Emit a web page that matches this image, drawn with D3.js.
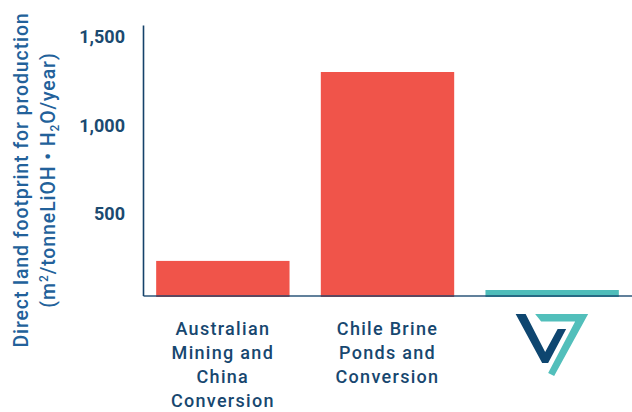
<!DOCTYPE html>
<html>
<head>
<meta charset="utf-8">
<script src="https://cdn.jsdelivr.net/npm/d3@7"></script>
<style>
  html, body { margin: 0; padding: 0; background: #fff; }
  svg { display: block; font-family: Roboto, "Noto Sans", sans-serif; }
</style>
</head>
<body>
<svg id="chart" width="632" height="412"></svg>
<script>
// ---- data ----
const categories = ["Australian Mining and China Conversion", "Chile Brine Ponds and Conversion", "Vulcan Zero Carbon Lithium"];
const categoryLines = [["Australian", "Mining and", "China", "Conversion"], ["Chile Brine", "Ponds and", "Conversion"], []];
const values = [195, 1260, 31];
const barColors = ["#F0544A", "#F0544A", "#4FBDBA"];
const yTicks = [500, 1000, 1500];
const yTitle1 = "Direct land footprint for production";

// ---- layout ----
const svg = d3.select("#chart");
const margin = { left: 143, right: 0, top: 25, bottom: 116.5 };
const W = 632, H = 412;

const x = d3.scaleBand()
  .domain(categories)
  .range([margin.left, W])
  .paddingInner(0.19)
  .paddingOuter(0.08);

const y = d3.scaleLinear()
  .domain([0, 1525])
  .range([H - margin.bottom, margin.top]);

const navy = "#15426a";
const titleBlue = "#22619a";

// bars
svg.append("g").selectAll("rect")
  .data(values)
  .join("rect")
  .attr("x", (d, i) => x(categories[i]))
  .attr("width", x.bandwidth())
  .attr("y", d => y(d))
  .attr("height", d => y(0) - y(d) + 1.5)
  .attr("fill", (d, i) => barColors[i]);

// y axis (line only, labels with top at tick position)
const yAxis = d3.axisLeft(y).tickValues(yTicks).tickSize(0).tickPadding(18)
  .tickFormat(d3.format(","));
const gy = svg.append("g").attr("transform", `translate(${margin.left},0)`).call(yAxis);
gy.select(".domain").attr("stroke", navy).attr("stroke-width", 1.6);
gy.selectAll(".tick text")
  .attr("dy", "0.72em")
  .attr("fill", "#1b4a70")
  .attr("font-size", 18)
  .attr("font-weight", 700)
  .attr("font-family", "Roboto, sans-serif");

// x axis
const xAxis = d3.axisBottom(x).tickSize(0).tickFormat("");
const gx = svg.append("g").attr("transform", `translate(0,${y(0)})`).call(xAxis);
gx.select(".domain").attr("stroke", navy).attr("stroke-width", 1.6).attr("stroke-opacity", 0.9);

// category labels
const labels = svg.append("g");
categories.forEach((c, i) => {
  const t = labels.append("text")
    .attr("x", x(c) + x.bandwidth() / 2)
    .attr("y", 335)
    .attr("text-anchor", "middle")
    .attr("fill", "#17476f")
    .attr("font-size", 18)
    .attr("font-weight", 500)
    .attr("letter-spacing", "1.3px");
  categoryLines[i].forEach((ln, j) => {
    t.append("tspan")
      .attr("x", x(c) + x.bandwidth() / 2)
      .attr("y", 335 + j * 24)
      .text(ln);
  });
});

// logo under third category
const cx = x(categories[2]) + x.bandwidth() / 2;
const logo = svg.append("g").attr("transform", `translate(${cx},314)`);
logo.append("path")
  .attr("d", "M-36.5,0 L-26.5,0 L-7,38 L5.5,15 L14,15 L-4,49 L-10,49 Z")
  .attr("fill", "#0e4670");
logo.append("path")
  .attr("d", "M-17,0 L36,0 L2,62 L-4,59 L23,7.5 L-11,7.5 Z")
  .attr("fill", "#52bfbb");

// y title
const title = svg.append("g").attr("transform", "translate(0,180) rotate(-90)");
title.append("text")
  .attr("x", 0).attr("y", 27.5)
  .attr("text-anchor", "middle")
  .attr("fill", titleBlue)
  .attr("font-size", 19.5)
  .attr("font-weight", 500)
  .attr("letter-spacing", "0.9px")
  .text(yTitle1);
const t2 = title.append("text")
  .attr("x", 0).attr("y", 55)
  .attr("text-anchor", "middle")
  .attr("fill", titleBlue)
  .attr("font-size", 19.5)
  .attr("font-weight", 500)
  .attr("letter-spacing", "0.9px");
t2.append("tspan").text("(m");
t2.append("tspan").attr("font-size", 12).attr("dy", -7).text("2");
t2.append("tspan").attr("dy", 7).text("/tonneLiOH • H");
t2.append("tspan").attr("font-size", 12).attr("dy", 4).text("2");
t2.append("tspan").attr("dy", -4).text("O/year)");
</script>
</body>
</html>
